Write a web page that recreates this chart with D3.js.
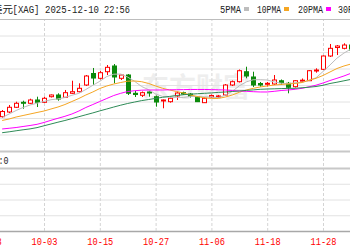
<!DOCTYPE html>
<html><head><meta charset="utf-8">
<script src="https://cdn.jsdelivr.net/npm/d3@7"></script>
<style>html,body{margin:0;padding:0;background:#fff;overflow:hidden}svg{display:block}</style>
</head><body>
<svg id="c" width="350" height="250"></svg>
<script>
// ---- data ----
const candleDates = ["09-25","09-26","09-29","09-30","10-01","10-02","10-03","10-06","10-07","10-08","10-09","10-10","10-13","10-14","10-15","10-16","10-17","10-20","10-21","10-22","10-23","10-24","10-27","10-28","10-29","10-30","10-31","11-03","11-04","11-05","11-06","11-07","11-10","11-11","11-12","11-13","11-14","11-17","11-18","11-19","11-20","11-21","11-24","11-25","11-26","11-27","11-28","12-01","12-02","12-03","12-04"];
const earlierDates = ["09-23","09-24"];
const tickDates = ["09-23","10-03","10-15","10-27","11-06","11-18","11-28"];
const openP  = [43.28,44.27,45.27,46.33,46.12,46.82,46.33,47.52,47.88,47.39,48.24,48.58,50.00,52.44,51.42,52.82,54.03,51.42,52.12,48.24,47.82,48.52,47.52,46.61,46.46,47.67,48.37,48.09,47.52,46.25,47.45,47.45,47.88,50.00,50.70,52.82,51.70,50.32,50.15,50.21,50.91,50.36,49.64,50.85,50.91,52.97,53.33,56.15,57.95,57.78,58.48];
const closeP = [44.38,45.27,46.12,46.18,46.82,46.33,47.18,47.88,47.03,48.37,48.58,49.30,51.91,51.48,52.61,53.75,51.70,52.12,48.24,47.98,48.37,48.30,46.39,46.82,47.18,48.30,48.09,47.56,46.46,47.18,47.77,47.67,50.00,50.70,53.03,51.91,50.00,50.00,50.36,51.06,50.49,49.51,50.91,51.02,53.03,53.18,56.15,57.78,58.27,58.48,57.42];
const highP  = [44.70,45.76,46.46,46.67,47.09,47.52,47.52,47.98,48.24,48.94,50.91,50.36,52.12,53.61,52.97,54.24,54.45,52.33,52.33,48.73,48.62,48.62,47.77,46.92,47.35,48.58,48.58,48.30,47.67,47.35,47.98,47.88,50.21,50.95,53.29,53.88,52.82,50.64,50.64,52.12,51.17,50.64,51.06,51.38,53.18,53.54,56.26,58.70,58.48,58.85,58.70];
const lowP   = [43.00,44.06,45.12,44.97,45.97,45.33,46.18,47.35,46.67,47.24,48.09,48.41,49.79,50.00,51.17,52.12,50.36,51.06,47.88,47.45,47.45,47.52,45.40,45.06,46.25,46.82,47.88,47.35,46.39,46.18,47.24,47.24,47.77,49.79,50.53,51.42,49.58,49.64,49.68,50.00,50.00,48.24,49.47,50.64,50.85,52.61,53.18,55.94,56.36,57.57,57.00];
const ma5  = [43.11,43.85,44.59,45.23,45.76,46.14,46.52,46.88,47.05,47.35,47.82,48.24,49.05,49.94,50.78,51.80,52.29,52.33,51.68,50.76,49.68,49.00,48.09,47.58,47.41,47.39,47.35,47.58,47.52,47.52,47.41,47.33,47.82,48.66,49.83,50.66,51.12,51.12,51.06,50.66,50.38,50.28,50.47,50.59,51.00,51.53,52.86,54.24,55.69,56.77,57.62];
const ma10 = [42.47,42.79,43.21,43.53,43.85,44.17,44.48,44.91,45.33,45.86,46.50,47.14,47.88,48.52,49.26,49.79,50.21,50.53,50.81,50.85,50.70,50.32,49.79,49.30,48.94,48.62,48.30,47.88,47.56,47.28,47.14,47.14,47.45,47.88,48.45,48.94,49.30,49.58,49.79,50.00,50.11,50.21,50.32,50.53,51.00,51.42,52.02,52.76,53.50,54.03,54.45];
const ma20 = [40.67,40.82,40.98,41.20,41.41,41.66,42.05,42.51,42.94,43.36,43.85,44.48,45.23,45.86,46.50,47.14,47.77,48.24,48.62,48.79,48.90,48.94,48.94,48.94,48.98,49.00,49.02,49.05,49.05,49.05,49.02,48.98,48.94,48.83,48.73,48.66,48.58,48.52,48.52,48.66,48.83,48.94,49.09,49.30,49.62,49.96,50.42,50.95,51.42,51.91,52.48];
const ma30 = [39.88,40.07,40.29,40.50,40.69,40.96,41.35,41.73,42.11,42.47,42.87,43.28,43.68,44.08,44.51,44.91,45.33,45.72,46.08,46.39,46.69,46.92,47.16,47.39,47.58,47.77,47.94,48.05,48.15,48.24,48.32,48.43,48.52,48.62,48.73,48.85,48.96,49.09,49.15,49.19,49.24,49.28,49.30,49.41,49.53,49.68,49.94,50.32,50.59,50.89,51.19];
const priceTicks = [36,39.5,43,46.5,50,53.5,57,60.5,64];
const volumeTicks = [0,1,2,3,4];
const legendNames = ["5PMA","10PMA","20PMA","30PMA"];
const legendColors = ["#bdbdbd","#f5a623","#ff00ff","#2e8b57"];

// ---- chart ----
const W = 350;
const svg = d3.select("#c");
const x = d3.scalePoint().domain(earlierDates.concat(candleDates)).range([-11.8, 350.9]);
const y = d3.scaleLinear().domain([36, 64]).range([151, 19]);
const yv = d3.scaleLinear().domain([0, 4]).range([231, 168]);
const font = "'Liberation Mono', 'DejaVu Sans Mono', monospace";
const cjk = "'Noto Sans CJK SC', sans-serif";

// watermark
svg.append("text").attr("x", 142).attr("y", 97).attr("fill", "#eeeeee")
  .attr("font-family", cjk).attr("font-weight", "bold").attr("font-size", 27).text("东方财富");

// horizontal grid (price panel)
svg.append("g").call(d3.axisRight(y).tickValues(priceTicks).tickSize(W).tickFormat(""))
  .call(g => g.select(".domain").remove())
  .call(g => g.selectAll(".tick line").attr("stroke", "#e2e2e2"));
// volume grid
svg.append("g").call(d3.axisRight(yv).tickValues(volumeTicks).tickSize(W).tickFormat(""))
  .call(g => g.select(".domain").remove())
  .call(g => g.selectAll(".tick line").attr("stroke", "#e2e2e2"));

// vertical dashed grid + date labels
const xa = svg.append("g").attr("transform", "translate(0,231)")
  .call(d3.axisBottom(x).tickValues(tickDates).tickSize(-212).tickSizeOuter(0).tickPadding(6));
xa.select(".domain").attr("stroke", "#a8a8a8").attr("stroke-width", 1.5);
xa.selectAll(".tick line").attr("stroke", "#d4d4d4").attr("stroke-dasharray", "3,2");
xa.selectAll(".tick text").attr("fill", "#ff0000").attr("font-family", font).attr("font-size", 11)
  .attr("textLength", 26).attr("lengthAdjust", "spacingAndGlyphs");

// panel borders
svg.append("line").attr("x1", 0).attr("x2", W).attr("y1", y(64) + 0.5).attr("y2", y(64) + 0.5).attr("stroke", "#bdbdbd");
svg.append("line").attr("x1", 0).attr("x2", W).attr("y1", y(36) + 0.5).attr("y2", y(36) + 0.5).attr("stroke", "#c8c8c8").attr("stroke-width", 2);
svg.append("line").attr("x1", 0).attr("x2", W).attr("y1", yv(4) + 0.5).attr("y2", yv(4) + 0.5).attr("stroke", "#c8c8c8").attr("stroke-width", 2);

// candles
const candles = candleDates.map((d, i) => ({d, o: openP[i], c: closeP[i], h: highP[i], l: lowP[i]}));
const cg = svg.append("g");
candles.forEach(k => {
  const cx = Math.round(x(k.d)) + 0.5;
  const up = k.c >= k.o;
  const col = up ? "#ff0000" : "#0b8a0b";
  cg.append("line").attr("x1", cx).attr("x2", cx).attr("y1", y(k.h)).attr("y2", y(k.l)).attr("stroke", col);
  const top = y(Math.max(k.o, k.c)), bot = y(Math.min(k.o, k.c));
  const hgt = Math.max(1, bot - top);
  if (up) {
    cg.append("rect").attr("x", cx - 2).attr("y", top).attr("width", 4).attr("height", hgt)
      .attr("fill", "#fff").attr("stroke", col).attr("stroke-width", 1);
  } else {
    cg.append("rect").attr("x", cx - 2.5).attr("y", top - 0.5).attr("width", 5).attr("height", hgt + 1)
      .attr("fill", col);
  }
});

// moving averages
const mas = [ma5, ma10, ma20, ma30];
mas.forEach((arr, j) => {
  const line = d3.line().x((v, i) => x(candleDates[i])).y(v => y(v));
  svg.append("path").attr("d", line(arr)).attr("fill", "none").attr("stroke", legendColors[j]).attr("stroke-width", 1);
});

// header
const hdr = svg.append("g").attr("fill", "#222").attr("font-size", 11);
hdr.append("text").attr("x", -8).attr("y", 12.5).attr("font-family", cjk).attr("font-size", 10.5).text("美元");
hdr.append("text").attr("x", 12.5).attr("y", 12.5).attr("font-family", font).attr("textLength", 27).attr("lengthAdjust", "spacingAndGlyphs").text("[XAG]");
hdr.append("text").attr("x", 45).attr("y", 12.5).attr("font-family", font).attr("textLength", 54).attr("lengthAdjust", "spacingAndGlyphs").text("2025-12-10");
hdr.append("text").attr("x", 104).attr("y", 12.5).attr("font-family", font).attr("textLength", 26).attr("lengthAdjust", "spacingAndGlyphs").text("22:56");

// legend
const legX = [220, 257, 298, 338];
const legW = [21, 24, 25, 25];
legendNames.forEach((n, j) => {
  svg.append("text").attr("x", legX[j]).attr("y", 12.5).attr("fill", "#222").attr("font-family", font)
    .attr("font-size", 11).attr("textLength", legW[j]).attr("lengthAdjust", "spacingAndGlyphs").text(n);
  svg.append("rect").attr("x", legX[j] + legW[j] + 3).attr("y", 7).attr("width", 5).attr("height", 4)
    .attr("fill", legendColors[j]);
});

// volume label
svg.append("text").attr("x", -1.5).attr("y", 164.3).attr("text-anchor", "end").attr("fill", "#222")
  .attr("font-family", cjk).attr("font-size", 10.5).text("成交量");
svg.append("text").attr("x", -1.5).attr("y", 164.3).attr("fill", "#222")
  .attr("font-family", font).attr("font-size", 11).attr("textLength", 10).attr("lengthAdjust", "spacingAndGlyphs").text(":0");
</script>
</body></html>
